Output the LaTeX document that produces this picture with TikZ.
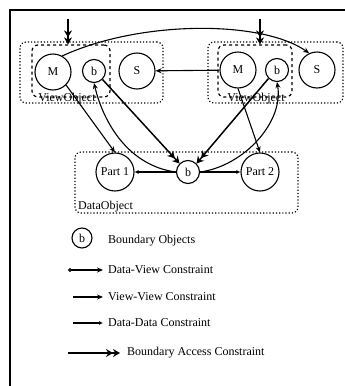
\documentclass[tikz,border=0pt]{standalone}
\usepackage{fontspec}
\setmainfont{Liberation Serif}
\usetikzlibrary{arrows.meta, positioning, calc}

\begin{document}
\begin{tikzpicture}[x=1pt, y=-1pt,
	font=\fontsize{12}{14}\selectfont,
	objnode/.style={draw, circle, line width=1.1pt, minimum size=36pt, inner sep=0pt},
	bndnode/.style={draw, circle, line width=1.1pt, minimum size=23pt, inner sep=0pt},
	partnode/.style={draw, circle, line width=1.1pt, minimum size=38pt, inner sep=0pt},
	dotbox/.style={draw, dotted, line width=1.2pt, rounded corners=6pt, inner sep=0pt},
	dashbox/.style={draw, dashed, line width=1.2pt, rounded corners=6pt, inner sep=0pt},
	access/.style={line width=1.5pt, -{Stealth[length=7pt,width=8pt]Stealth[length=7pt,width=8pt]}},
	vvcon/.style={line width=1.1pt, -{Stealth[length=6pt,width=5pt]}},
	ddcon/.style={line width=1.1pt, -{Latex[length=4pt,width=4pt]}},
	dvcon/.style={line width=1.1pt, {Circle[open,length=4pt]}-{Stealth[length=6pt,width=5pt]}},
	lbl/.style={inner sep=0pt, anchor=west}]
	\useasboundingbox (0,0) rectangle (345,386);
	\draw[line width=1.6pt] (10,386) -- (10,10) -- (345,10);
	% view objects
	\node[dotbox, minimum width=143pt, minimum height=61pt] (VO1) at (91.5,72.5) {};
	\node[dashbox, minimum width=78pt, minimum height=52pt] (VB1) at (71,71) {};
	\node[dotbox, minimum width=135pt, minimum height=61pt] (VO2) at (275.5,72.5) {};
	\node[dashbox, minimum width=74pt, minimum height=52pt] (VB2) at (255,71) {};
	\node[objnode] (M1) at (53,72) {M};
	\node[bndnode] (b1) at (94,71) {b};
	\node[objnode] (S1) at (137,71) {S};
	\node[objnode] (M2) at (238,70) {M};
	\node[bndnode] (b2) at (277,70) {b};
	\node[objnode] (S2) at (317,70) {S};
	\node[inner sep=0pt] (vl1) at (67,99) {ViewObject};
	\node[inner sep=0pt] (vl2) at (256,99) {ViewObject};
	% data object
	\node[dotbox, minimum width=223pt, minimum height=61pt] (DO) at (186.5,182.5) {};
	\node[partnode] (P1) at (115,172) {Part 1};
	\node[bndnode] (b) at (188,172) {b};
	\node[partnode] (P2) at (260,172) {Part 2};
	\node[lbl] (dl) at (78,207) {DataObject};
	% boundary access from outside
	\coordinate (t1) at (68,19);
	\coordinate (t2) at (260,19);
	\draw[access] (t1) -- (t1 |- VB1.north);
	\draw[access] (t2) -- (t2 |- VB2.north);
	% constraints
	\draw[vvcon] (M1.60) .. controls (140,20) and (262,20) .. (S2.115);
	\draw[vvcon] (M2) -- (S1);
	\draw[vvcon] (M1.south east) -- (P1.north);
	\draw[vvcon] (M2.south) -- (P2.north);
	\draw[access] (b1.south east) -- (b.north west);
	\draw[access] (b2.south west) -- (b.north east);
	\draw[vvcon] (b.west) .. controls (130,166) and (104,125) .. (b1.south);
	\draw[vvcon] (b.east) .. controls (244,166) and (284,122) .. (b2.south);
	\draw[ddcon] (b) -- (P1);
	\draw[ddcon] (b) -- (P2);
	% legend
	\node[bndnode, minimum size=20pt] (lb) at (82,238) {b};
	\node[lbl] (lt1) at (108,241) {Boundary Objects};
	\coordinate (dv0) at (68,270);
	\coordinate (dv1) at (103,270);
	\draw[dvcon] (dv0) -- (dv1);
	\node[lbl] (lt2) at (108,270) {Data-View Constraint};
	\coordinate (vv0) at (73,297);
	\coordinate (vv1) at (103,297);
	\draw[vvcon] (vv0) -- (vv1);
	\node[lbl] (lt3) at (108,297) {View-View Constraint};
	\coordinate (dd0) at (73,323);
	\coordinate (dd1) at (103,323);
	\draw[ddcon] (dd0) -- (dd1);
	\node[lbl] (lt4) at (108,323) {Data-Data Constraint};
	\coordinate (ba0) at (68,353);
	\coordinate (ba1) at (120,353);
	\draw[access] (ba0) -- (ba1);
	\node[lbl] (lt5) at (127,353) {Boundary Access Constraint};
\end{tikzpicture}
\end{document}
